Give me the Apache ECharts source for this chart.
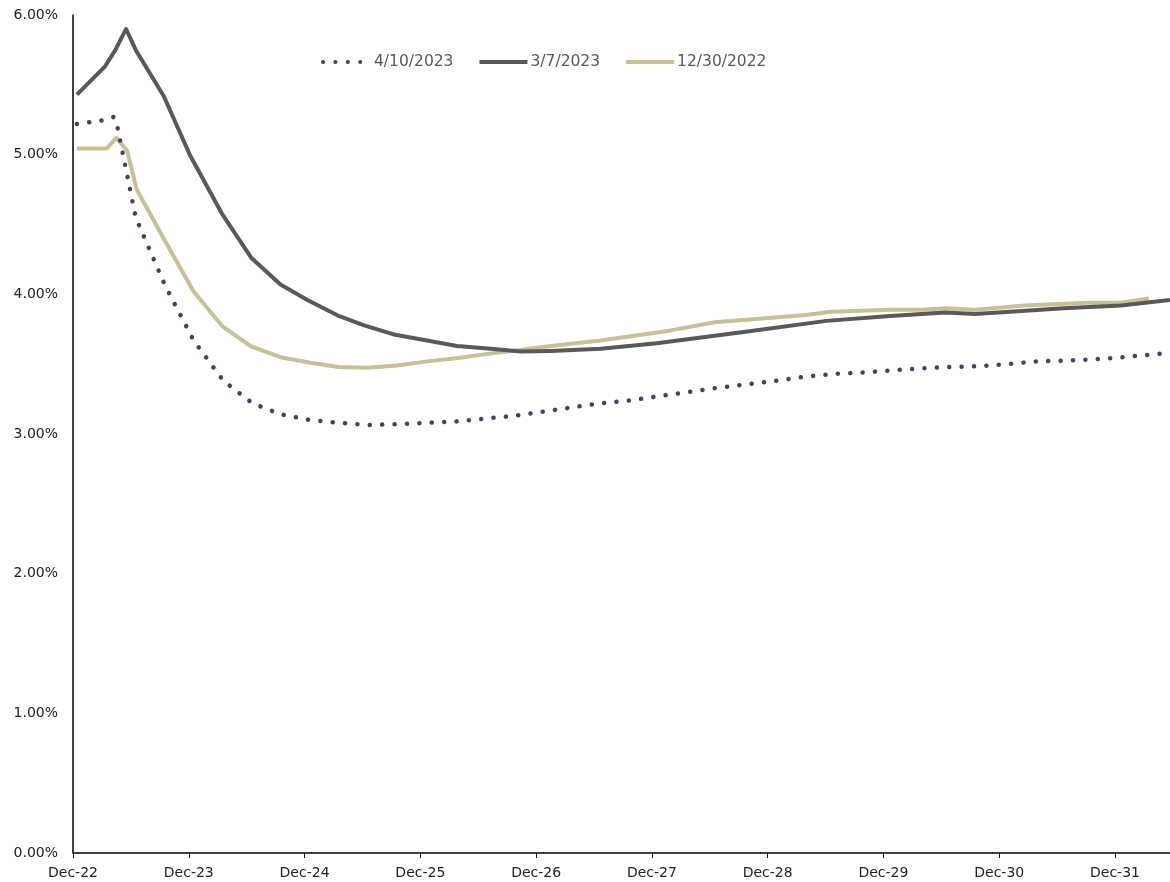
<!DOCTYPE html>
<html>
<head>
<meta charset="utf-8">
<script src="https://cdn.jsdelivr.net/npm/echarts@6/dist/echarts.min.js"></script>
<style>
html,body{margin:0;padding:0;background:#fff;}
#chart{width:1170px;height:882px;}
</style>
</head>
<body>
<div id="chart"></div>
<script>
// x = months after Dec-22, y = rate in percent
const seriesNames = ['4/10/2023', '3/7/2023', '12/30/2022'];
const yearLabels = ['Dec-22','Dec-23','Dec-24','Dec-25','Dec-26','Dec-27','Dec-28','Dec-29','Dec-30','Dec-31'];

const apr10Months = [0.4,3.5,4.2,4.6,6.5,9.5,12.5,15.6,18.6,21.6,24.6,27.6,30.6,33.6,36.6,39.7,42.7,45.7,48.7,51.7,54.7,57.7,60.7,63.7,66.7,69.8,72.8,75.8,78.8,81.8,84.8,87.8,90.8,93.8,96.8,99.9,102.9,105.9,108.9,111.9,113.7];
const apr10Values = [5.22,5.25,5.27,5.20,4.55,4.07,3.67,3.38,3.22,3.14,3.10,3.08,3.065,3.07,3.08,3.09,3.11,3.13,3.16,3.19,3.22,3.24,3.27,3.30,3.33,3.355,3.38,3.41,3.43,3.44,3.455,3.47,3.48,3.485,3.50,3.52,3.525,3.535,3.55,3.57,3.58];

const mar7Months = [0.4,3.3,4.4,5.5,6.5,9.4,12.1,15.5,18.5,21.5,24.3,27.4,30.1,33.4,36.7,39.8,43.3,46.4,49.5,54.7,60.5,69.5,78.1,84.7,90.4,93.5,102.7,108.6,113.7];
const mar7Values = [5.43,5.63,5.75,5.90,5.75,5.42,5.00,4.57,4.26,4.07,3.96,3.85,3.78,3.71,3.67,3.63,3.61,3.59,3.595,3.61,3.65,3.73,3.81,3.845,3.87,3.86,3.90,3.92,3.96];

const dec30Months = [0.4,3.5,4.5,5.6,6.6,9.4,12.5,15.5,18.4,21.5,24.6,27.5,30.5,33.6,36.7,39.5,42.6,46.1,49.5,54.7,61.8,66.5,75.7,78.6,84.7,88.0,90.4,93.5,98.6,105.2,108.6,111.5];
const dec30Values = [5.045,5.045,5.12,5.03,4.75,4.40,4.02,3.77,3.63,3.55,3.51,3.48,3.475,3.49,3.52,3.54,3.57,3.60,3.63,3.67,3.74,3.80,3.85,3.875,3.89,3.89,3.90,3.89,3.92,3.94,3.94,3.97];

function pairs(xs, ys){ return xs.map((x,i)=>[x, ys[i]]); }

const FONT = 'DejaVu Sans';
const chart = echarts.init(document.getElementById('chart'), null, {renderer:'canvas'});
chart.setOption({
  animation:false,
  backgroundColor:'#ffffff',
  grid:{left:73, right:0, top:15, bottom:29, containLabel:false},
  legend:{
    top:49, left:316,
    itemWidth:48, itemHeight:10, itemGap:24,
    itemStyle:{opacity:0},
    lineStyle:{width:4},
    textStyle:{fontFamily:FONT, fontSize:15.5, color:'#595959', padding:[0,0,0,-2]},
    data:seriesNames
  },
  xAxis:{
    type:'value', min:0, max:113.7, interval:12,
    axisLine:{show:true, lineStyle:{color:'#000', width:1.5}},
    axisTick:{show:true, length:5, lineStyle:{color:'#000', width:1}},
    splitLine:{show:false},
    axisLabel:{
      showMaxLabel:false,
      fontFamily:FONT, fontSize:14, color:'#222', margin:13,
      formatter:function(v){ const i = Math.round(v/12); return (Math.abs(v - i*12) < 0.01 && yearLabels[i]) ? yearLabels[i] : ''; }
    }
  },
  yAxis:{
    type:'value', min:0, max:6, interval:1,
    axisLine:{show:true, lineStyle:{color:'#000', width:1.5}},
    axisTick:{show:false},
    splitLine:{show:false},
    axisLabel:{fontFamily:FONT, fontSize:14, color:'#222', margin:15,
      formatter:function(v){ return v.toFixed(2)+'%'; }}
  },
  series:[
    {name:seriesNames[0], type:'line', symbol:'none', z:3,
     data:pairs(apr10Months, apr10Values),
     itemStyle:{color:'#3f4463'},
     lineStyle:{color:'#3f4463', width:4.5, type:[0.1,12.3], cap:'round'}},
    {name:seriesNames[1], type:'line', symbol:'none', z:2,
     data:pairs(mar7Months, mar7Values),
     itemStyle:{color:'#595959'},
     lineStyle:{color:'#595959', width:4, join:'round'}},
    {name:seriesNames[2], type:'line', symbol:'none', z:1,
     data:pairs(dec30Months, dec30Values),
     itemStyle:{color:'#c8c197'},
     lineStyle:{color:'#c8c197', width:4, join:'round'}}
  ]
});
</script>
</body>
</html>
